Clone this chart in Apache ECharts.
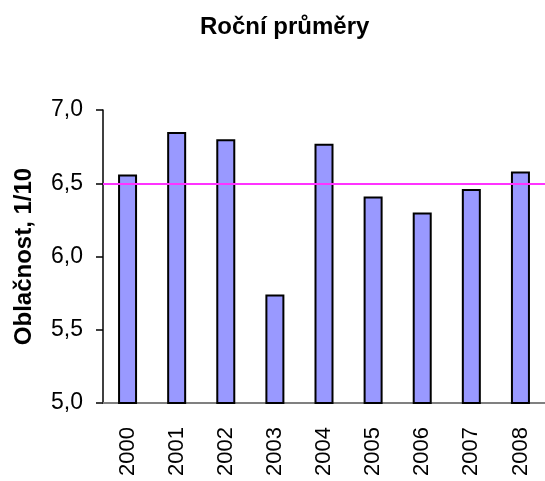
<!DOCTYPE html>
<html>
<head>
<meta charset="utf-8">
<script src="https://cdn.jsdelivr.net/npm/echarts@6/dist/echarts.min.js"></script>
<style>
html,body{margin:0;padding:0;background:#fff;}
#main{width:545px;height:481px;}
</style>
</head>
<body>
<div id="main"></div>
<script>
var years = ['2000','2001','2002','2003','2004','2005','2006','2007','2008'];
var oblacnost = [6.56, 6.85, 6.80, 5.74, 6.77, 6.41, 6.30, 6.46, 6.58];
var yTicks = [5.0, 5.5, 6.0, 6.5, 7.0];

var myChart = echarts.init(document.getElementById('main'));
var font = 'Liberation Sans, Arial, sans-serif';
var option = {
	backgroundColor: '#fff',
	animation: false,
	title: {
		text: 'Roční průměry',
		left: 200,
		top: 15,
		padding: 0,
		textStyle: {fontFamily: font, fontSize: 24, fontWeight: 'bold', color: '#000'}
	},
	grid: {left: 103, right: -2, top: 110, bottom: 78, containLabel: false},
	xAxis: {
		type: 'category',
		data: years,
		axisLine: {lineStyle: {color: '#808080', width: 2}},
		axisTick: {length: 7, lineStyle: {color: '#808080', width: 1.5}},
		axisLabel: {rotate: 90, margin: 24, fontFamily: font, fontSize: 22, color: '#000'}
	},
	yAxis: {
		type: 'value',
		min: yTicks[0],
		max: yTicks[yTicks.length - 1],
		interval: 0.5,
		name: 'Oblačnost, 1/10',
		nameLocation: 'middle',
		nameRotate: 90,
		nameGap: 67,
		nameTextStyle: {fontFamily: font, fontSize: 24, fontWeight: 'bold', color: '#000'},
		axisLine: {show: true, lineStyle: {color: '#000', width: 1.5}},
		axisTick: {show: true, length: 7, lineStyle: {color: '#000', width: 1.5}},
		splitLine: {show: false},
		axisLabel: {
			margin: 20, fontFamily: font, fontSize: 23, color: '#000',
			formatter: function (v) { return v.toFixed(1).replace('.', ','); }
		}
	},
	series: [
		{
			name: 'Oblačnost',
			type: 'bar',
			data: oblacnost,
			barWidth: 19,
			itemStyle: {color: '#9999FF', borderColor: '#000', borderWidth: 2},
			markLine: {
				silent: true,
				symbol: 'none',
				label: {show: false},
				lineStyle: {color: '#FF33FF', width: 2, type: 'solid'},
				data: [{type: 'average'}]
			}
		}
	]
};
myChart.setOption(option);
</script>
</body>
</html>
